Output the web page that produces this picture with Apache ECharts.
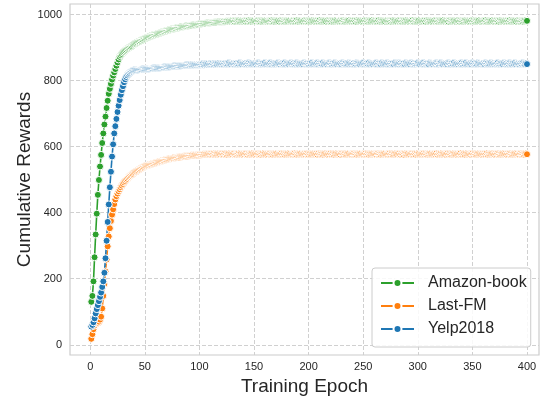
<!DOCTYPE html>
<html>
<head>
<meta charset="utf-8">
<script src="https://cdn.jsdelivr.net/npm/echarts@6/dist/echarts.min.js"></script>
<style>
  html, body { margin: 0; padding: 0; background: #ffffff; }
  #chart { width: 544px; height: 396px; }
</style>
</head>
<body>
<div id="chart"></div>
<script>
// tick labels
const xTicks = [0, 50, 100, 150, 200, 250, 300, 350, 400];
const yTicks = [0, 200, 400, 600, 800, 1000];
const seriesNames = ["Amazon-book", "Last-FM", "Yelp2018"];

// cumulative reward per epoch (epoch 1..400)
const amazonBook = [
  130,148,192,265,334,397,454,499,540,575,611,640,667,691,717,739,760,775,790,803,
  815,825,835,845,855,864,872,877,881,885,888,891,894,897,899,901,903,905,908,910,
  912,914,916,918,919,921,923,924,926,927,929,930,931,933,934,935,937,938,939,940,
  941,942,943,945,946,947,948,949,950,951,952,953,954,955,956,957,957,958,959,960,
  960,961,962,962,963,964,964,965,965,966,967,967,968,968,969,969,970,970,971,971,
  972,972,973,973,973,974,974,975,975,975,976,976,976,977,977,977,977,978,978,978,
  978,979,978,979,980,979,980,979,980,981,980,979,981,980,980,981,979,980,981,980,
  980,979,981,980,982,980,979,981,980,981,979,980,982,981,980,979,981,980,980,982,
  981,980,979,980,981,982,980,979,981,980,980,981,979,982,980,981,980,979,980,981,
  980,982,981,979,980,981,980,980,982,979,981,980,981,979,980,982,980,981,980,979,
  981,980,982,980,979,981,980,981,980,982,979,980,981,980,981,979,982,980,981,980,
  979,981,980,982,980,981,979,980,981,980,982,981,979,980,980,981,982,979,980,981,
  980,981,979,982,980,980,981,979,981,980,982,980,981,979,980,981,980,982,979,980,
  981,980,980,982,979,981,980,981,980,979,982,981,980,980,979,981,982,980,981,979,
  980,982,980,981,979,980,981,980,982,980,979,981,980,981,982,979,980,981,980,980,
  982,979,981,980,980,981,979,982,980,981,980,979,981,980,982,980,981,979,980,981,
  980,981,982,979,980,981,980,979,982,981,980,980,981,979,981,982,980,979,981,980,
  979,980,982,981,980,979,981,980,982,980,981,979,980,981,980,982,979,981,980,980,
  981,982,979,980,981,980,980,982,979,981,980,981,980,979,982,980,981,980,979,981,
  980,981,980,982,979,980,981,980,981,979,982,980,981,980,980,979,981,982,980,981
];

const lastFm = [
  18,32,47,58,64,66,67,70,76,85,110,148,184,222,258,298,328,353,375,394,
  410,426,440,450,458,465,471,477,482,487,492,496,500,503,507,510,513,516,518,521,
  523,525,527,529,531,533,535,537,539,541,542,543,544,545,546,547,548,549,550,551,
  552,553,554,555,556,557,558,559,560,561,562,562,563,564,564,565,566,566,567,568,
  568,569,569,570,570,571,571,572,572,572,573,573,574,573,574,575,574,575,575,576,
  575,576,576,577,576,577,577,578,577,578,578,577,579,578,577,578,579,578,577,579,
  578,577,579,578,576,578,579,577,578,577,579,578,576,577,578,579,577,578,576,578,
  577,579,578,576,578,577,578,579,577,576,578,577,579,578,577,576,578,579,577,578,
  576,578,577,579,578,577,576,578,577,579,578,576,577,578,579,577,578,576,578,577,
  579,577,578,576,577,578,579,577,576,578,577,579,578,576,577,578,577,579,578,576,
  578,576,577,579,578,577,578,576,579,577,578,577,576,578,579,577,576,578,577,579,
  577,578,576,578,579,577,578,577,576,579,578,577,578,576,577,579,578,576,577,578,
  579,578,577,576,578,577,579,578,576,577,578,579,577,578,576,578,577,579,578,577,
  576,577,579,578,577,576,578,577,579,578,576,577,578,579,577,578,576,577,579,578,
  577,579,578,576,578,577,576,579,578,577,578,576,577,579,578,577,578,576,579,577,
  578,576,577,578,579,577,578,576,577,578,579,578,576,577,578,577,579,576,578,577,
  579,577,578,577,576,578,579,577,578,576,577,579,578,577,576,578,577,578,579,576,
  577,578,576,579,577,578,577,576,578,579,577,578,576,577,579,578,577,576,578,577,
  578,577,579,576,578,577,578,579,577,576,578,577,579,578,576,577,578,579,577,578,
  576,578,577,579,578,576,577,578,579,577,578,576,577,579,578,577,576,578,579,577
];

const yelp2018 = [
  55,60,68,80,95,108,120,132,145,158,175,192,218,262,315,372,425,477,524,570,
  607,640,662,684,705,724,741,757,771,783,795,804,811,816,820,823,826,828,830,831,
  832,832,833,833,834,834,834,835,835,835,836,836,836,836,837,837,837,838,838,838,
  838,839,839,839,840,840,840,841,841,841,842,842,842,843,843,843,844,844,844,845,
  845,845,845,846,846,846,846,847,847,847,847,848,847,848,848,849,848,849,848,849,
  848,849,850,848,849,850,849,851,849,850,850,851,849,850,851,850,852,850,851,850,
  851,850,852,851,850,851,853,851,850,852,851,850,851,852,850,851,853,851,850,852,
  851,852,850,851,853,851,852,850,851,852,851,850,852,853,851,850,851,852,851,853,
  850,851,852,851,853,850,852,851,850,851,852,853,851,850,852,851,851,853,850,852,
  851,850,852,853,851,852,850,851,853,851,850,852,851,852,850,853,851,852,851,850,
  852,851,853,850,851,852,851,853,850,852,851,851,853,850,852,851,850,852,853,851,
  850,852,851,853,851,850,852,851,852,850,853,851,851,852,850,851,853,852,850,851,
  852,850,851,853,852,851,850,852,851,853,850,851,852,851,853,850,852,851,850,852,
  851,853,850,852,851,850,853,851,852,850,851,853,851,850,852,851,852,850,853,851,
  850,851,853,852,850,851,852,850,853,851,852,851,850,853,851,852,850,851,852,853,
  851,850,852,851,853,850,851,852,851,850,853,852,851,850,852,851,853,851,850,852,
  853,851,850,852,851,852,850,853,851,850,852,851,853,850,851,852,850,852,851,853,
  850,852,851,853,850,851,852,851,850,853,851,852,850,851,853,852,850,851,852,851,
  850,853,851,852,850,851,853,851,852,850,851,852,853,850,851,852,851,850,853,851,
  852,850,851,853,851,850,852,851,853,850,852,851,850,852,851,853,851,850,852,850
];

const colors = ["#2ca02c", "#ff7f0e", "#1f77b4"];
const textColor = "#262626";
const font = "Liberation Sans, Arial, sans-serif";

const toPairs = (vals) => vals.map((v, i) => [i + 1, v]);

const chart = echarts.init(document.getElementById("chart"));

const makeSeries = (name, vals, color) => ({
  name: name,
  type: "line",
  data: toPairs(vals),
  symbol: "circle",
  symbolSize: 7,
  showSymbol: true,
  color: color,
  lineStyle: { color: color, width: 1.6 },
  itemStyle: { color: color, borderColor: "#ffffff", borderWidth: 1 },
  emphasis: { disabled: true },
});

chart.setOption({
  animation: false,
  backgroundColor: "#ffffff",
  textStyle: { fontFamily: font },
  grid: {
    left: 70,
    right: 5,
    top: 4,
    bottom: 41,
    outerBoundsMode: "none",
    containLabel: false,
    show: true,
    borderColor: "#cccccc",
    borderWidth: 1.2,
  },
  legend: {
    orient: "vertical",
    left: 372,
    top: 268,
    padding: [7, 4, 10, 8],
    itemWidth: 33,
    itemHeight: 10,
    itemGap: 7,
    backgroundColor: "rgba(255,255,255,0.85)",
    borderColor: "#cccccc",
    borderWidth: 1,
    borderRadius: 3,
    textStyle: {
      color: textColor,
      fontSize: 16,
      lineHeight: 16,
      fontFamily: font,
      padding: [0, 0, 0, 9],
    },
    data: seriesNames,
  },
  xAxis: {
    type: "value",
    min: -18.5,
    max: 411,
    name: "Training Epoch",
    nameLocation: "middle",
    nameGap: 18,
    nameTextStyle: { color: textColor, fontSize: 19, fontFamily: font },
    axisLine: { show: false },
    axisTick: { show: false, customValues: xTicks },
    axisLabel: {
      customValues: xTicks,
      color: textColor,
      fontSize: 11,
      margin: 6,
      fontFamily: font,
      formatter: (v) => String(v),
    },
    splitLine: {
      show: true,
      lineStyle: { color: "#d0d0d0", width: 1, type: [4, 2] },
    },
  },
  yAxis: {
    type: "value",
    min: -31,
    max: 1032,
    name: "Cumulative Rewards",
    nameLocation: "middle",
    nameGap: 36,
    nameMoveOverlap: false,
    nameTextStyle: { color: textColor, fontSize: 19, fontFamily: font },
    axisLine: { show: false },
    axisTick: { show: false, customValues: yTicks },
    axisLabel: {
      customValues: yTicks,
      color: textColor,
      fontSize: 11,
      margin: 8,
      fontFamily: font,
      formatter: (v) => String(v),
    },
    splitLine: {
      show: true,
      lineStyle: { color: "#d0d0d0", width: 1, type: [4, 2] },
    },
  },
  series: [
    makeSeries(seriesNames[0], amazonBook, colors[0]),
    makeSeries(seriesNames[1], lastFm, colors[1]),
    makeSeries(seriesNames[2], yelp2018, colors[2]),
  ],
});

window.addEventListener("resize", () => chart.resize());
</script>
</body>
</html>
